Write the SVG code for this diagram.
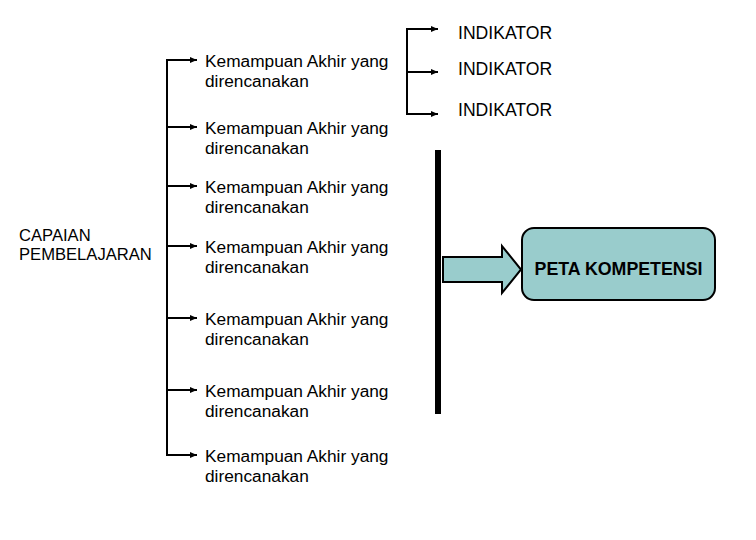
<svg xmlns="http://www.w3.org/2000/svg" width="756" height="540" viewBox="0 0 756 540">
<defs>
<style>
.t{font-family:"Liberation Sans",Arial,sans-serif;font-size:17.3px;fill:#000}
.i{font-family:"Liberation Sans",Arial,sans-serif;font-size:17.6px;fill:#000}
.c{font-family:"Liberation Sans",Arial,sans-serif;font-size:16.6px;fill:#000}
.b{font-family:"Liberation Sans",Arial,sans-serif;font-size:17.8px;font-weight:bold;fill:#000}
.ln{fill:none;stroke:#000;stroke-width:2}
</style>
<marker id="ah" markerUnits="userSpaceOnUse" markerWidth="7" markerHeight="6" refX="7" refY="3" orient="auto">
<path d="M0,0 L7,3 L0,6 Z" fill="#000"/>
</marker>
</defs>
<rect width="756" height="540" fill="#fff"/>
<g id="connectors">
<path class="ln" d="M167,59 V456"/>
<line class="ln" x1="166" y1="60" x2="197" y2="60" marker-end="url(#ah)"/>
<line class="ln" x1="167" y1="127" x2="197" y2="127" marker-end="url(#ah)"/>
<line class="ln" x1="167" y1="186" x2="197" y2="186" marker-end="url(#ah)"/>
<line class="ln" x1="167" y1="246" x2="197" y2="246" marker-end="url(#ah)"/>
<line class="ln" x1="167" y1="318" x2="197" y2="318" marker-end="url(#ah)"/>
<line class="ln" x1="167" y1="390" x2="197" y2="390" marker-end="url(#ah)"/>
<line class="ln" x1="166" y1="455" x2="197" y2="455" marker-end="url(#ah)"/>
<path class="ln" d="M407,28 V115"/>
<line class="ln" x1="406" y1="29" x2="438" y2="29" marker-end="url(#ah)"/>
<line class="ln" x1="407" y1="72" x2="438" y2="72" marker-end="url(#ah)"/>
<line class="ln" x1="406" y1="114" x2="438" y2="114" marker-end="url(#ah)"/>
<rect x="435" y="150" width="6" height="264" fill="#000"/>
<path d="M443,257 H502 V246 L521,269.5 L502,293 V282 H443 Z" fill="#99CCCC" stroke="#000" stroke-width="2"/>
</g>
<g id="capaian">
<text class="c" x="19" y="241">CAPAIAN</text>
<text class="c" x="19" y="260">PEMBELAJARAN</text>
</g>
<g id="ka1"><text class="t" x="205" y="67">Kemampuan Akhir yang</text><text class="t" x="205" y="87">direncanakan</text></g>
<g id="ka2"><text class="t" x="205" y="134">Kemampuan Akhir yang</text><text class="t" x="205" y="154">direncanakan</text></g>
<g id="ka3"><text class="t" x="205" y="193">Kemampuan Akhir yang</text><text class="t" x="205" y="213">direncanakan</text></g>
<g id="ka4"><text class="t" x="205" y="253">Kemampuan Akhir yang</text><text class="t" x="205" y="273">direncanakan</text></g>
<g id="ka5"><text class="t" x="205" y="325">Kemampuan Akhir yang</text><text class="t" x="205" y="345">direncanakan</text></g>
<g id="ka6"><text class="t" x="205" y="397">Kemampuan Akhir yang</text><text class="t" x="205" y="417">direncanakan</text></g>
<g id="ka7"><text class="t" x="205" y="462">Kemampuan Akhir yang</text><text class="t" x="205" y="482">direncanakan</text></g>
<g id="ind1"><text class="i" x="458" y="39">INDIKATOR</text></g>
<g id="ind2"><text class="i" x="458" y="75">INDIKATOR</text></g>
<g id="ind3"><text class="i" x="458" y="116">INDIKATOR</text></g>
<g id="peta">
<rect x="522" y="228" width="193" height="72" rx="12" ry="12" fill="#99CCCC" stroke="#000" stroke-width="2"/>
<text class="b" x="618.5" y="275" text-anchor="middle">PETA KOMPETENSI</text>
</g>
</svg>
